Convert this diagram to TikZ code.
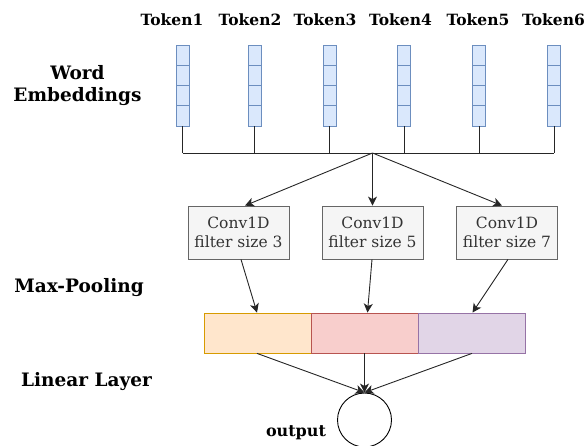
\documentclass[tikz,border=0pt]{standalone}
\usepackage{fontspec}
\setmainfont{DejaVu Serif}
\usetikzlibrary{arrows.meta,positioning}
\definecolor{vecfill}{HTML}{DAE8FC}
\definecolor{vecline}{HTML}{6C8EBF}
\definecolor{convfill}{HTML}{F5F5F5}
\definecolor{convline}{HTML}{666666}
\definecolor{convtext}{HTML}{333333}
\definecolor{orfill}{HTML}{FFE6CC}
\definecolor{orline}{HTML}{D79B00}
\definecolor{rdfill}{HTML}{F8CECC}
\definecolor{rdline}{HTML}{B85450}
\definecolor{pufill}{HTML}{E1D5E7}
\definecolor{puline}{HTML}{9673A6}
\tikzset{
  lbl/.style={font=\fontsize{18.5}{22}\selectfont\bfseries, align=center},
  tok/.style={font=\fontsize{15.5}{18}\selectfont\bfseries},
  cell/.style={draw=vecline, fill=vecfill, line width=0.8pt, minimum width=13pt, minimum height=20.25pt, inner sep=0pt},
  conv/.style={draw=convline, fill=convfill, line width=0.8pt, minimum width=101pt, minimum height=53pt, inner sep=0pt, align=center, text=convtext, font=\fontsize{15.5}{19}\selectfont},
  pool/.style={line width=0.8pt, minimum width=107pt, minimum height=40pt, inner sep=0pt},
  conn/.style={line width=0.9pt, black!85},
  arr/.style={conn, -{Stealth[length=9pt,width=9pt,inset=2.5pt]}},
}
\begin{document}
\begin{tikzpicture}[x=1pt,y=-1pt]
\useasboundingbox (0,0) rectangle (587,446);
% labels
\node[lbl] (lwe) at (77.5,86) {Word\\Embeddings};
\node[lbl] (lmp) at (79,288) {Max-Pooling};
\node[lbl] (lll) at (86.5,382) {Linear Layer};
% tokens
\foreach \i/\x/\tx in {1/182.5/172,2/254.5/250,3/329.5/325,4/404/400.5,5/479/478,6/554/553.5}{
  \node[tok] (t\i) at (\tx,20) {Token\i};
  \foreach \j in {1,2,3,4}{
    \node[cell] (v\i c\j) at (\x,{45+20.25*(\j-0.5)}) {};
  }
}
% bus
\coordinate (bus) at (372.5,153);
\foreach \i in {1,...,6}{
  \draw[conn] (v\i c4.south) -- ++(0,27) coordinate (b\i);
}
\draw[conn] (b1) -- (b6);
% conv boxes
\node[conv] (c3) at (238.5,232.5) {Conv1D\\filter size 3};
\node[conv] (c5) at (372.5,232.5) {Conv1D\\filter size 5};
\node[conv] (c7) at (507,232.5) {Conv1D\\filter size 7};
\draw[arr] (bus) -- (c3.north -| 245,0);
\draw[arr] (bus) -- (c5.north);
\draw[arr] (bus) -- (c7.north -| 502,0);
% pooling bar
\node[pool, draw=orline, fill=orfill] (p1) at (257.5,333) {};
\node[pool, draw=rdline, fill=rdfill] (p2) at (364.5,333) {};
\node[pool, draw=puline, fill=pufill] (p3) at (471.5,333) {};
\draw[arr] (c3.south -| 241,0) -- (p1.north -| 257,0);
\draw[arr] (c5.south -| 372,0) -- (p2.north -| 367.5,0);
\draw[arr] (c7.south -| 508,0) -- (p3.north -| 472.5,0);
% output
\node[draw, circle, line width=0.9pt, minimum size=54pt, inner sep=0pt] (out) at (364.5,420) {};
\node[font=\fontsize{16}{18}\selectfont\bfseries] (lout) at (296,433) {output};
\draw[arr] (p1.south -| 257,0) -- (out.north);
\draw[arr] (p2.south -| 364.5,0) -- (out.north);
\draw[arr] (p3.south -| 472,0) -- (out.north);
\end{tikzpicture}
\end{document}
